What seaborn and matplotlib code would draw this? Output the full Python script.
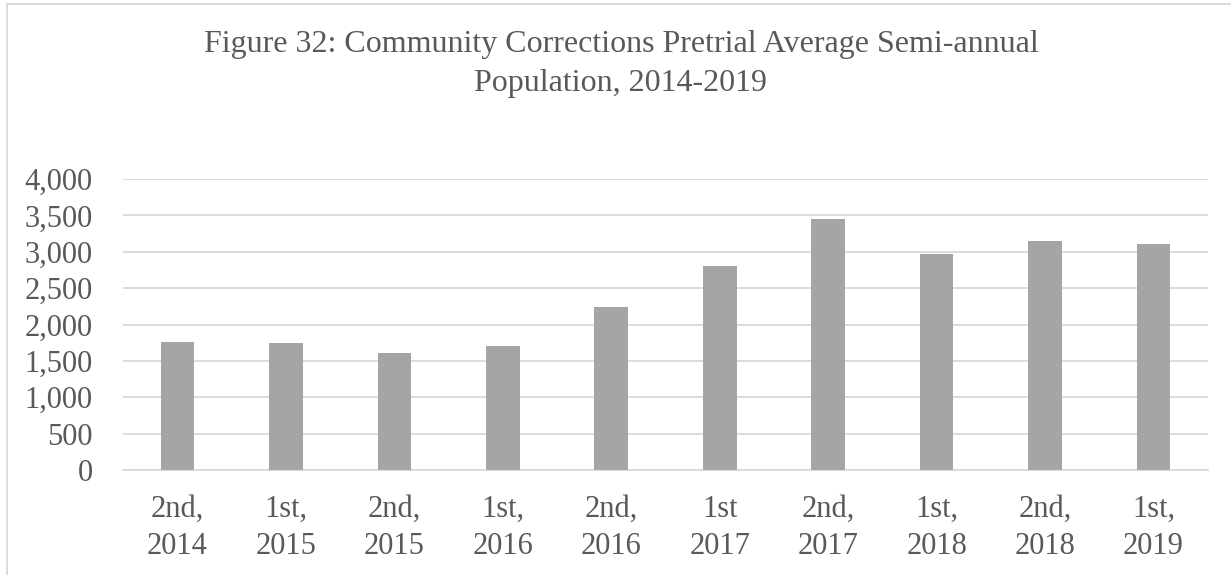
import matplotlib
matplotlib.use("Agg")
import matplotlib.pyplot as plt
import seaborn as sns
import pandas as pd
from matplotlib.patches import Rectangle

categories = ["2nd,\n2014", "1st,\n2015", "2nd,\n2015", "1st,\n2016", "2nd,\n2016",
              "1st\n2017", "2nd,\n2017", "1st,\n2018", "2nd,\n2018", "1st,\n2019"]
values = [1764, 1746, 1604, 1709, 2236, 2800, 3455, 2965, 3148, 3112]
yticks = [0, 500, 1000, 1500, 2000, 2500, 3000, 3500, 4000]
title = "Figure 32: Community Corrections Pretrial Average Semi-annual\nPopulation, 2014-2019"

sns.set_theme(style="white")
plt.rcParams['font.family'] = ['Liberation Serif', 'DejaVu Serif']

W, H = 1231, 575
fig = plt.figure(figsize=(W / 100, H / 100), dpi=100)
ax = fig.add_axes([123.3 / W, 1 - 470 / H, (1207.7 - 123.3) / W, (470 - 179) / H])

df = pd.DataFrame({"cat": categories, "val": values})
sns.barplot(data=df, x="cat", y="val", color="#a5a5a5", saturation=1, width=0.31,
            edgecolor="none", ax=ax, zorder=3)

ax.set_ylim(0, 4000)
ax.set_xlim(-0.5, len(categories) - 0.5)
ax.set_yticks(yticks)
ax.set_yticklabels([f"{v:,}" for v in yticks])
ax.yaxis.grid(True, color="#d9d9d9", linewidth=1.3, zorder=0)
ax.set_axisbelow(True)
for s in ["top", "right", "left"]:
    ax.spines[s].set_visible(False)
ax.spines["bottom"].set_color("#d9d9d9")
ax.spines["bottom"].set_linewidth(1.3)
ax.set_xlabel("")
ax.set_ylabel("")
ax.tick_params(axis="y", length=0, pad=22, labelsize=22, labelcolor="#595959")
ax.tick_params(axis="x", length=0, pad=18, labelsize=22, labelcolor="#595959")
for lab in ax.get_xticklabels():
    lab.set_linespacing(1.36)

fig.text(621 / W, 1 - 91 / H, title, ha="center", va="baseline", fontsize=23,
         color="#595959", linespacing=1.45, multialignment="center")

fig.patches.append(Rectangle((7 / W, -0.1), 1.2, 1 - 4 / H + 0.1, transform=fig.transFigure,
                             fill=False, edgecolor="#d9d9d9", linewidth=1.3))

fig.savefig("out.png", dpi=100)
